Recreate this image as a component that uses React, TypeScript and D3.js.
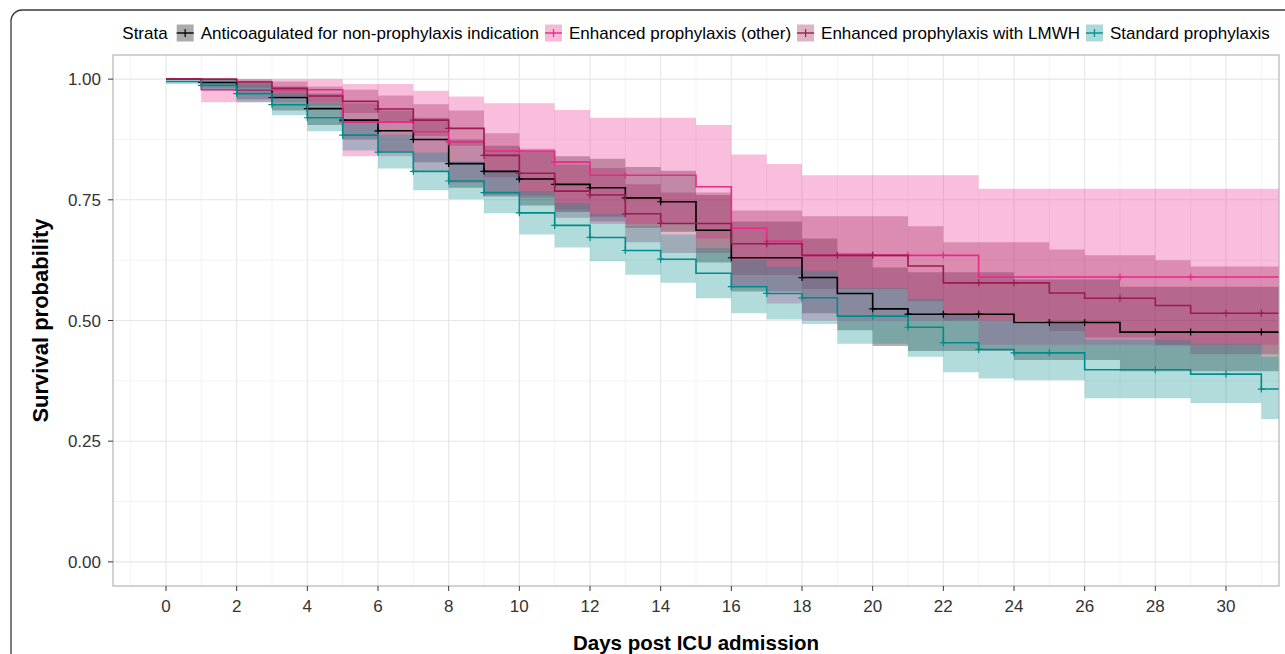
import React from "react";
import * as d3 from "d3";

// ---------- data ----------
const strataTitle = "Strata";
const strataNames = [
  "Anticoagulated for non-prophylaxis indication",
  "Enhanced prophylaxis (other)",
  "Enhanced prophylaxis with LMWH",
  "Standard prophylaxis",
];
const strataColors = ["#000000", "#e7298a", "#9b1b4f", "#008b8b"];

// Anticoagulated
const acTime = [0, 1, 2, 3, 4, 5, 6, 7, 8, 9, 10, 11, 12, 13, 14, 15, 16, 18, 19, 20, 21, 24, 27];
const acSurv = [1.0, 0.993, 0.978, 0.962, 0.939, 0.915, 0.893, 0.875, 0.825, 0.809, 0.793, 0.782, 0.775, 0.754, 0.746, 0.687, 0.63, 0.589, 0.556, 0.524, 0.513, 0.496, 0.476];
const acUpper = [1.0, 1.0, 0.995, 0.985, 0.97, 0.95, 0.935, 0.92, 0.875, 0.862, 0.85, 0.84, 0.835, 0.818, 0.81, 0.76, 0.705, 0.67, 0.64, 0.61, 0.6, 0.585, 0.57];
const acLower = [1.0, 0.98, 0.958, 0.935, 0.905, 0.875, 0.85, 0.828, 0.775, 0.757, 0.738, 0.725, 0.715, 0.692, 0.684, 0.62, 0.56, 0.515, 0.48, 0.447, 0.437, 0.418, 0.395];
const acCensor = [1, 2, 3, 4, 5, 6, 7, 8, 9, 10, 11, 12, 13, 14, 16, 18, 20, 21, 22, 23, 25, 26, 28, 29, 31];

// Enhanced prophylaxis (other)
const epTime = [0, 1, 5, 7, 8, 9, 11, 12, 15, 16, 17, 18, 23];
const epSurv = [1.0, 0.978, 0.911, 0.891, 0.87, 0.851, 0.828, 0.801, 0.777, 0.691, 0.664, 0.635, 0.59];
const epUpper = [1.0, 1.0, 0.99, 0.976, 0.964, 0.95, 0.936, 0.92, 0.905, 0.844, 0.824, 0.801, 0.773];
const epLower = [1.0, 0.952, 0.84, 0.81, 0.785, 0.76, 0.73, 0.7, 0.67, 0.57, 0.535, 0.5, 0.45];
const epCensor = [5, 8, 10, 11, 13, 17, 19, 20, 21, 22, 27, 29];

// Enhanced prophylaxis with LMWH
const lmTime = [0, 2, 3, 4, 5, 6, 7, 8, 9, 10, 11, 12, 13, 14, 16, 18, 21, 22, 25, 26, 28, 29];
const lmSurv = [1.0, 0.994, 0.981, 0.965, 0.954, 0.938, 0.915, 0.898, 0.842, 0.805, 0.768, 0.76, 0.721, 0.701, 0.659, 0.635, 0.613, 0.578, 0.557, 0.546, 0.531, 0.515];
const lmUpper = [1.0, 1.0, 0.995, 0.985, 0.978, 0.966, 0.948, 0.935, 0.888, 0.856, 0.823, 0.816, 0.782, 0.765, 0.728, 0.716, 0.695, 0.662, 0.647, 0.635, 0.625, 0.612];
const lmLower = [1.0, 0.982, 0.965, 0.945, 0.93, 0.91, 0.882, 0.862, 0.797, 0.755, 0.713, 0.705, 0.662, 0.64, 0.594, 0.565, 0.54, 0.5, 0.478, 0.465, 0.448, 0.43];
const lmCensor = [6, 7, 8, 9, 10, 12, 13, 14, 17, 19, 20, 23, 24, 27, 30, 31];

// Standard prophylaxis
const spTime = [0, 1, 2, 3, 4, 5, 6, 7, 8, 9, 10, 11, 12, 13, 14, 15, 16, 17, 18, 19, 21, 22, 23, 24, 26, 29, 31];
const spSurv = [0.995, 0.987, 0.97, 0.947, 0.92, 0.884, 0.849, 0.809, 0.789, 0.765, 0.723, 0.697, 0.672, 0.645, 0.627, 0.598, 0.57, 0.556, 0.547, 0.509, 0.486, 0.454, 0.44, 0.433, 0.398, 0.389, 0.358];
const spUpper = [1.0, 0.998, 0.99, 0.97, 0.95, 0.915, 0.885, 0.848, 0.83, 0.808, 0.768, 0.743, 0.72, 0.695, 0.678, 0.65, 0.625, 0.612, 0.603, 0.567, 0.545, 0.513, 0.5, 0.493, 0.46, 0.452, 0.425];
const spLower = [0.99, 0.976, 0.952, 0.925, 0.892, 0.852, 0.815, 0.77, 0.751, 0.722, 0.678, 0.651, 0.623, 0.595, 0.578, 0.546, 0.515, 0.502, 0.493, 0.452, 0.425, 0.393, 0.38, 0.376, 0.339, 0.329, 0.296];
const spCensor = [1, 2, 3, 4, 5, 6, 7, 8, 9, 10, 11, 12, 13, 14, 16, 17, 18, 20, 21, 22, 23, 24, 25, 28, 30, 31];

const xTicks = [0, 2, 4, 6, 8, 10, 12, 14, 16, 18, 20, 22, 24, 26, 28, 30];
const xMinor = [-1, 1, 3, 5, 7, 9, 11, 13, 15, 17, 19, 21, 23, 25, 27, 29, 31];
const yTicks = [0, 0.25, 0.5, 0.75, 1.0];
const yMinor = [0.125, 0.375, 0.625, 0.875];
const xTitle = "Days post ICU admission";
const yTitle = "Survival probability";

// ---------- layout ----------
const W = 1285;
const H = 654;
const panel = { left: 113, right: 1279, top: 55, bottom: 586 };
const FONT = "'Liberation Sans', Arial, Helvetica, sans-serif";

const groups = [
  { t: acTime, s: acSurv, u: acUpper, l: acLower, c: acCensor },
  { t: epTime, s: epSurv, u: epUpper, l: epLower, c: epCensor },
  { t: lmTime, s: lmSurv, u: lmUpper, l: lmLower, c: lmCensor },
  { t: spTime, s: spSurv, u: spUpper, l: spLower, c: spCensor },
];

function measure(text: string, font: string): number {
  const c = document.createElement("canvas");
  const ctx = c.getContext("2d");
  if (!ctx) return text.length * 8;
  ctx.font = font;
  return ctx.measureText(text).width;
}

export default function App() {
  const x = d3.scaleLinear().domain([-1.5, 31.5]).range([panel.left, panel.right]);
  const y = d3.scaleLinear().domain([-0.05, 1.05]).range([panel.bottom, panel.top]);
  const tEnd = 33;

  const area = d3
    .area<{ t: number; lo: number; hi: number }>()
    .x((d) => x(d.t))
    .y0((d) => y(d.lo))
    .y1((d) => y(d.hi))
    .curve(d3.curveStepAfter);
  const line = d3
    .line<{ t: number; v: number }>()
    .x((d) => x(d.t))
    .y((d) => y(d.v))
    .curve(d3.curveStepAfter);

  const survAt = (g: typeof groups[0], tt: number) => {
    let v = g.s[0];
    for (let i = 0; i < g.t.length; i++) if (g.t[i] <= tt) v = g.s[i];
    return v;
  };

  // legend layout
  const legFont = `17px ${FONT}`;
  const keyW = 17;
  const titleW = measure(strataTitle, legFont);
  const labelW = strataNames.map((n) => measure(n, legFont));
  const gapTitle = 9, gapKey = 7, gapItem = 6;
  let total = titleW + gapTitle;
  labelW.forEach((w, i) => {
    total += keyW + gapKey + w + (i < labelW.length - 1 ? gapItem : 0);
  });
  const legStart = (panel.left + panel.right) / 2 - total / 2;
  const legItems: { kx: number; tx: number }[] = [];
  let cur = legStart + titleW + gapTitle;
  labelW.forEach((w) => {
    legItems.push({ kx: cur, tx: cur + keyW + gapKey });
    cur += keyW + gapKey + w + gapItem;
  });
  const legY = 33;

  return (
    <svg width={W} height={H} style={{ position: "absolute", left: 0, top: 0, background: "#fff" }}>
      <defs>
        <clipPath id="panelClip">
          <rect x={panel.left} y={panel.top} width={panel.right - panel.left} height={panel.bottom - panel.top} />
        </clipPath>
      </defs>
      <rect x={0} y={0} width={W} height={H} fill="#fff" />
      {/* outer frame */}
      <rect x={11} y={10} width={1400} height={800} rx={11} ry={11} fill="none" stroke="#3a3a3a" strokeWidth={1.3} />

      {/* grid */}
      <g>
        {xMinor.map((v) => (
          <line key={"xm" + v} x1={x(v)} x2={x(v)} y1={panel.top} y2={panel.bottom} stroke="#ebebeb" strokeWidth={0.6} />
        ))}
        {yMinor.map((v) => (
          <line key={"ym" + v} x1={panel.left} x2={panel.right} y1={y(v)} y2={y(v)} stroke="#ebebeb" strokeWidth={0.6} />
        ))}
        {xTicks.map((v) => (
          <line key={"xg" + v} x1={x(v)} x2={x(v)} y1={panel.top} y2={panel.bottom} stroke="#e6e6e6" strokeWidth={1.1} />
        ))}
        {yTicks.map((v) => (
          <line key={"yg" + v} x1={panel.left} x2={panel.right} y1={y(v)} y2={y(v)} stroke="#e6e6e6" strokeWidth={1.1} />
        ))}
      </g>

      {/* bands */}
      <g clipPath="url(#panelClip)">
        {groups.map((g, gi) => {
          const pts = g.t.map((t, i) => ({ t, lo: g.l[i], hi: g.u[i] }));
          pts.push({ t: tEnd, lo: g.l[g.l.length - 1], hi: g.u[g.u.length - 1] });
          return <path key={"b" + gi} d={area(pts) || ""} fill={strataColors[gi]} fillOpacity={0.3} stroke="none" />;
        })}
        {groups.map((g, gi) => {
          const pts = g.t.map((t, i) => ({ t, v: g.s[i] }));
          pts.push({ t: tEnd, v: g.s[g.s.length - 1] });
          return (
            <g key={"l" + gi}>
              <path d={line(pts) || ""} fill="none" stroke={strataColors[gi]} strokeWidth={1.6} />
              {g.c.map((ct) => {
                const cx = x(ct);
                const cy = y(survAt(g, ct));
                return (
                  <path
                    key={"c" + ct}
                    d={`M${cx - 3.5},${cy}H${cx + 3.5}M${cx},${cy - 3.5}V${cy + 3.5}`}
                    stroke={strataColors[gi]}
                    strokeWidth={1.2}
                  />
                );
              })}
            </g>
          );
        })}
      </g>

      {/* panel border */}
      <rect
        x={panel.left}
        y={panel.top}
        width={panel.right - panel.left}
        height={panel.bottom - panel.top}
        fill="none"
        stroke="#a6a6a6"
        strokeWidth={1}
      />

      {/* axes */}
      <g fontFamily={FONT} fontSize={17} fill="#333">
        {yTicks.map((v) => (
          <g key={"yt" + v}>
            <line x1={panel.left - 5} x2={panel.left} y1={y(v)} y2={y(v)} stroke="#333" strokeWidth={1} />
            <text x={panel.left - 12} y={y(v) + 6} textAnchor="end">
              {d3.format(".2f")(v)}
            </text>
          </g>
        ))}
        {xTicks.map((v) => (
          <g key={"xt" + v}>
            <line x1={x(v)} x2={x(v)} y1={panel.bottom} y2={panel.bottom + 5} stroke="#333" strokeWidth={1} />
            <text x={x(v)} y={612} textAnchor="middle">
              {String(v)}
            </text>
          </g>
        ))}
      </g>
      <text
        x={(panel.left + panel.right) / 2}
        y={650}
        textAnchor="middle"
        fontFamily={FONT}
        fontSize={20.5}
        fontWeight="bold"
        fill="#000"
      >
        {xTitle}
      </text>
      <text
        transform={`translate(48,${(panel.top + panel.bottom) / 2}) rotate(-90)`}
        textAnchor="middle"
        fontFamily={FONT}
        fontSize={22}
        fontWeight="bold"
        fill="#000"
      >
        {yTitle}
      </text>

      {/* legend */}
      <g fontFamily={FONT} fontSize={17} fill="#000">
        <text x={legStart} y={legY + 6}>
          {strataTitle}
        </text>
        {legItems.map((it, i) => (
          <g key={"lg" + i}>
            <rect x={it.kx} y={legY - keyW / 2} width={keyW} height={keyW} fill={strataColors[i]} fillOpacity={0.33} />
            <line x1={it.kx} x2={it.kx + keyW} y1={legY} y2={legY} stroke={strataColors[i]} strokeWidth={1.4} />
            <line x1={it.kx + keyW / 2} x2={it.kx + keyW / 2} y1={legY - 4} y2={legY + 4} stroke={strataColors[i]} strokeWidth={1.2} />
            <text x={it.tx} y={legY + 6}>
              {strataNames[i]}
            </text>
          </g>
        ))}
      </g>
    </svg>
  );
}
